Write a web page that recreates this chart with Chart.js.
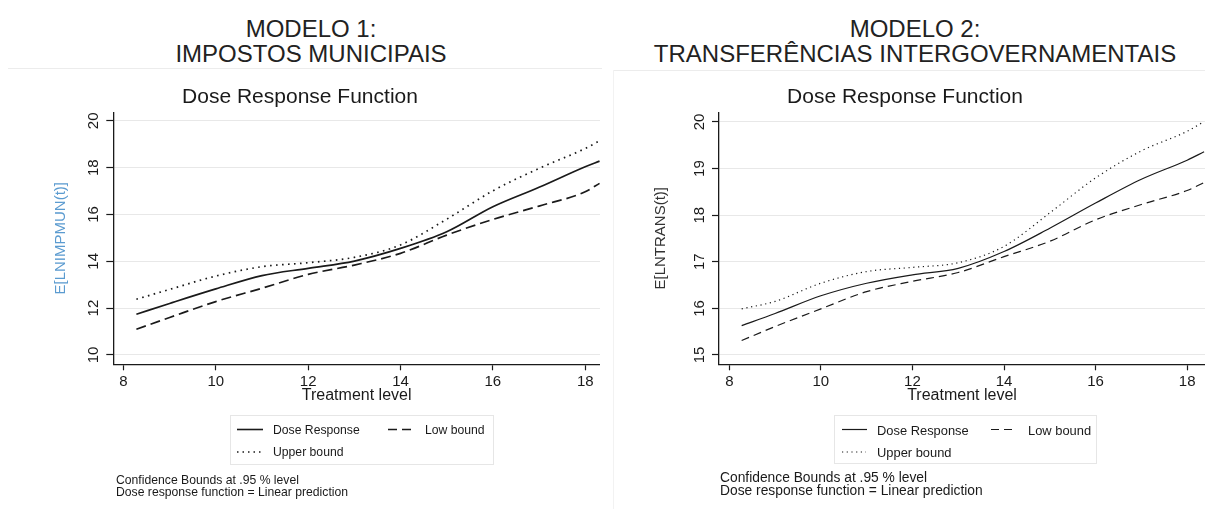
<!DOCTYPE html>
<html>
<head>
<meta charset="utf-8">
<script src="https://cdn.jsdelivr.net/npm/chart.js@4.4.1/dist/chart.umd.min.js"></script>
<style>
  html, body { margin: 0; padding: 0; background: #fff; }
  body { width: 1205px; height: 509px; position: relative; overflow: hidden;
         font-family: "Liberation Sans", Arial, sans-serif; color: #1a1a1a; }
  .abs { position: absolute; }
  .head { position: absolute; text-align: center; font-size: 24px; line-height: 25px; white-space: nowrap; color: #222; }
  .legbox { position: absolute; border: 1px solid #e6e6e6; box-sizing: border-box; }
  .legtxt { position: absolute; white-space: nowrap; transform: translateY(-50%); }
  .note { position: absolute; white-space: nowrap; }
</style>
</head>
<body>

<!-- ── Panel headers ───────────────────────────────────────── -->
<div class="head" style="left:111px;width:400px;top:16px">MODELO 1:<br>IMPOSTOS MUNICIPAIS</div>
<div class="head" style="left:615px;width:600px;top:16px">MODELO 2:<br>TRANSFERÊNCIAS INTERGOVERNAMENTAIS</div>
<div class="abs" style="left:8px;top:68px;width:594px;height:1px;background:#ececec"></div>
<div class="abs" style="left:613px;top:70px;width:592px;height:1px;background:#ececec"></div>
<div class="abs" style="left:613px;top:70px;width:1px;height:439px;background:#f2f2f2"></div>

<div class="abs" style="left:0;top:75px;width:600px;height:335px"><canvas id="c1" width="600" height="335"></canvas></div>
<div class="abs" style="left:605px;top:75px;width:600px;height:335px"><canvas id="c2" width="600" height="335"></canvas></div>

<!-- ── Legends ─────────────────────────────────────────────── -->
<div class="legbox" style="left:230px;top:415px;width:264px;height:50px"></div>
<div class="legbox" style="left:834px;top:415px;width:263px;height:49px"></div>
<svg class="abs" style="left:0;top:0" width="1205" height="509">
  <g stroke="#1a1a1a" fill="none">
    <line x1="237" y1="429.5" x2="263" y2="429.5" stroke-width="1.6"/>
    <line x1="388" y1="429.5" x2="411" y2="429.5" stroke-width="1.5" stroke-dasharray="9 5"/>
    <line x1="237" y1="452" x2="261" y2="452" stroke-width="1.6" stroke-dasharray="1.5 4"/>
    <line x1="842" y1="429.5" x2="867" y2="429.5" stroke-width="1.2"/>
    <line x1="991" y1="429.5" x2="1015" y2="429.5" stroke-width="1.2" stroke-dasharray="8 5"/>
    <line x1="842" y1="452" x2="866" y2="452" stroke-width="1.2" stroke-dasharray="1.2 3.5"/>
  </g>
</svg>
<div class="legtxt" style="left:273px;top:430px;font-size:12.2px">Dose Response</div>
<div class="legtxt" style="left:425px;top:430px;font-size:12.2px">Low bound</div>
<div class="legtxt" style="left:273px;top:452px;font-size:12.2px">Upper bound</div>
<div class="legtxt" style="left:877px;top:430px;font-size:12.9px">Dose Response</div>
<div class="legtxt" style="left:1028px;top:430px;font-size:12.9px">Low bound</div>
<div class="legtxt" style="left:877px;top:452px;font-size:12.9px">Upper bound</div>

<div class="note" style="left:116px;top:474px;font-size:12.2px;line-height:12px">Confidence Bounds at .95 % level<br>Dose response function = Linear prediction</div>
<div class="note" style="left:720px;top:471px;font-size:13.8px;line-height:13px">Confidence Bounds at .95 % level<br>Dose response function = Linear prediction</div>

<script>
// ── Data ─────────────────────────────────────────────────────
const xTicks = [8, 10, 12, 14, 16, 18];

// Modelo 1: impostos municipais
const treat1  = [8.28, 9, 10, 11, 12, 13, 14, 15, 16, 17, 18, 18.31];
const dose1   = [11.74, 12.20, 12.82, 13.39, 13.70, 14.01, 14.55, 15.26, 16.33, 17.16, 18.04, 18.28];
const low1    = [11.10, 11.60, 12.28, 12.85, 13.44, 13.84, 14.34, 15.12, 15.79, 16.36, 16.97, 17.33];
const upp1    = [12.38, 12.80, 13.37, 13.77, 13.94, 14.17, 14.70, 15.80, 17.01, 17.97, 18.82, 19.15];
const yTicks1 = [10, 12, 14, 16, 18, 20];

// Modelo 2: transferências intergovernamentais
const treat2  = [8.27, 9, 10, 11, 12, 13, 14, 15, 16, 17, 18, 18.37];
const dose2   = [15.63, 15.89, 16.27, 16.54, 16.72, 16.86, 17.22, 17.72, 18.26, 18.77, 19.18, 19.36];
const low2    = [15.31, 15.61, 15.99, 16.36, 16.58, 16.77, 17.11, 17.44, 17.90, 18.23, 18.53, 18.70];
const upp2    = [15.99, 16.15, 16.54, 16.79, 16.88, 16.98, 17.33, 18.05, 18.80, 19.38, 19.80, 20.01];
const yTicks2 = [15, 16, 17, 18, 19, 20];

const FONT = '"Liberation Sans", Arial, sans-serif';
const INK  = '#1a1a1a';

const zip = (xs, ys) => xs.map((x, i) => ({ x, y: ys[i] }));

// rotated y tick labels (Stata style)
const rotatedYTicks = {
  id: 'rotatedYTicks',
  afterDraw(chart) {
    const y = chart.scales.y, ctx = chart.ctx;
    ctx.save();
    ctx.font = '15px ' + FONT;
    ctx.fillStyle = INK;
    ctx.textAlign = 'center';
    ctx.textBaseline = 'middle';
    y.ticks.forEach(t => {
      ctx.save();
      ctx.translate(y.right - 19, y.getPixelForValue(t.value));
      ctx.rotate(-Math.PI / 2);
      ctx.fillText(String(t.value), 0, 0);
      ctx.restore();
    });
    ctx.restore();
  }
};

function lineSet(label, data, dash, width) {
  return {
    label, data,
    borderColor: INK, borderWidth: width, borderDash: dash,
    pointRadius: 0, fill: false,
    cubicInterpolationMode: 'monotone',
  };
}

function makeChart(id, o) {
  return new Chart(document.getElementById(id), {
    type: 'line',
    data: {
      datasets: [
        lineSet('Dose Response', zip(o.x, o.dose), [], o.lw),
        lineSet('Low bound',     zip(o.x, o.low),  o.dash, o.lw),
        lineSet('Upper bound',   zip(o.x, o.upp),  o.dot, o.lw),
      ],
    },
    options: {
      responsive: false,
      animation: false,
      layout: { padding: 0 },
      plugins: {
        legend: { display: false },
        tooltip: { enabled: false },
        title: {
          display: true, text: 'Dose Response Function', color: INK,
          font: { family: FONT, size: 21, weight: 'normal' },
          padding: { top: 9.4, bottom: 2.6 },
        },
      },
      scales: {
        x: {
          type: 'linear', min: o.xmin, max: o.xmax,
          afterBuildTicks: s => { s.ticks = xTicks.map(v => ({ value: v })); },
          afterFit: s => { s.height = 45.7; },
          grid: { drawOnChartArea: false, drawTicks: true, tickLength: 6, tickColor: INK, tickWidth: 1.2 },
          border: { color: INK, width: 1.3 },
          ticks: { color: INK, font: { family: FONT, size: 15 }, padding: 3 },
          title: {
            display: true, text: 'Treatment level', color: INK,
            font: { family: FONT, size: 16 }, padding: { top: 0, bottom: 4.4 },
          },
        },
        y: {
          type: 'linear', min: o.ymin, max: o.ymax,
          afterBuildTicks: s => { s.ticks = o.yTicks.map(v => ({ value: v })); },
          afterFit: s => { s.width = o.yw; },
          grid: { color: '#e8e8e8', lineWidth: 1, drawTicks: true, tickLength: 7, tickColor: INK, tickWidth: 1.2 },
          border: { color: INK, width: 1.3 },
          ticks: { display: false },
          title: {
            display: true, text: o.ytitle, color: o.ytitleColor,
            font: { family: FONT, size: 15 }, padding: { top: o.ytpad, bottom: 0 },
          },
        },
      },
    },
    plugins: [rotatedYTicks],
  });
}

makeChart('c1', {
  x: treat1, dose: dose1, low: low1, upp: upp1, yTicks: yTicks1,
  xmin: 7.78, xmax: 18.32, ymin: 9.6, ymax: 20.37, yw: 113.3,
  lw: 1.7, dash: [10, 5], dot: [1.6, 4.4],
  ytitle: 'E[LNIMPMUN(t)]', ytitleColor: '#5b9bd0', ytpad: 52,
});

makeChart('c2', {
  x: treat2, dose: dose2, low: low2, upp: upp2, yTicks: yTicks2,
  xmin: 7.775, xmax: 18.39, ymin: 14.8, ymax: 20.21, yw: 114,
  lw: 1.2, dash: [8, 5], dot: [1.2, 3.6],
  ytitle: 'E[LNTRANS(t)]', ytitleColor: '#333333', ytpad: 47,
});
</script>
</body>
</html>
